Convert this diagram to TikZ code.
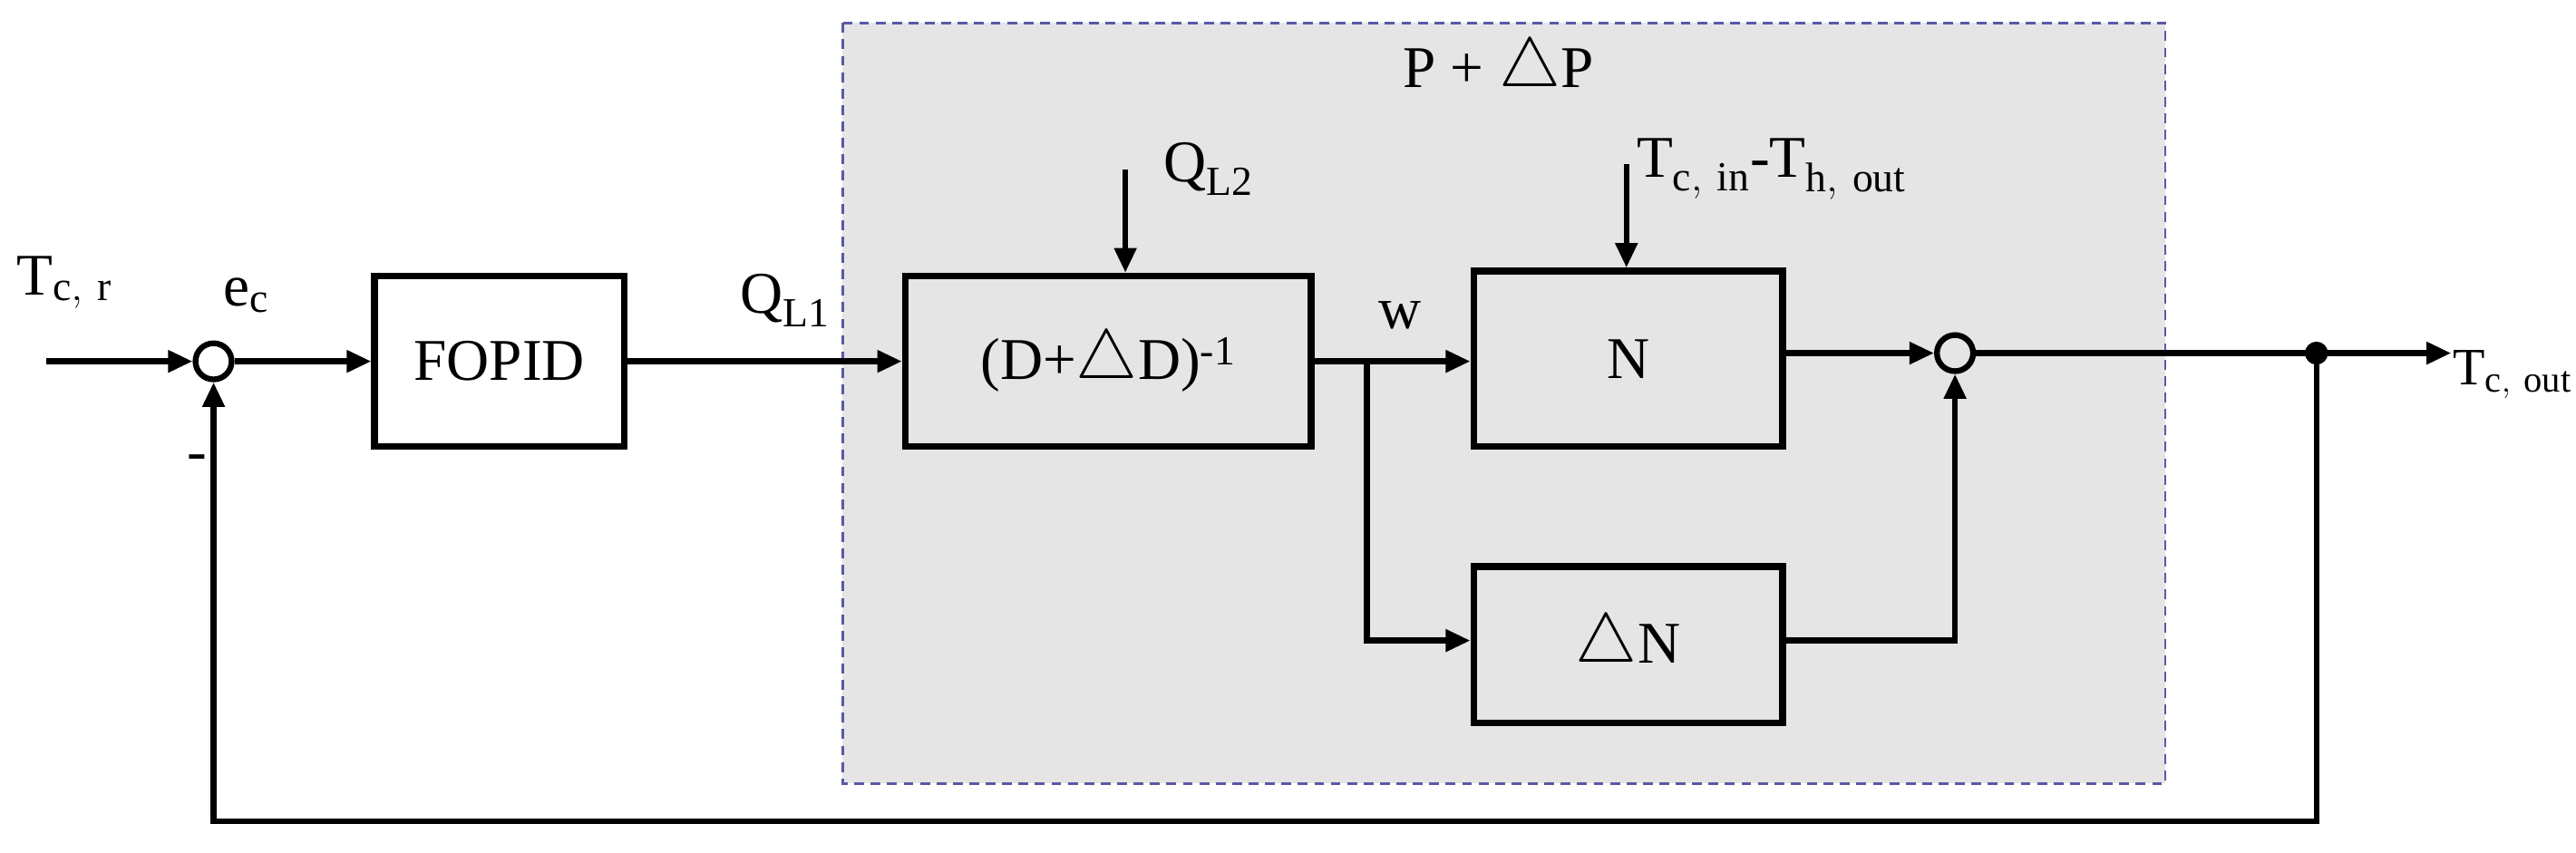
\documentclass[tikz,border=0pt]{standalone}
\usepackage{fontspec}
\setmainfont{Liberation Serif}
\usetikzlibrary{arrows.meta}
\newcommand{\bigtri}{\raisebox{0.02em}{\scalebox{1.7}{$\bigtriangleup$}}}
\begin{document}
\begin{tikzpicture}[x=1pt,y=-1pt,
  blk/.style={draw,line width=4pt,minimum width=#1,inner sep=0pt},
  sum/.style={draw,circle,line width=3.5pt,minimum size=22pt,inner sep=0pt},
  ln/.style={line width=3.5pt,-{Triangle[length=15pt,width=13pt]}},
  lab/.style={font=\fontsize{36}{40}\selectfont,inner sep=0pt}]
\useasboundingbox (0,0) rectangle (1568,519);
\fill[gray!20] (513,14) rectangle (1318,477);
\draw[dash pattern=on 6pt off 4pt,blue!30!gray,line width=1.5pt] (513,14) rectangle (1318,477);
\node[lab] (title) at (912,42) {P + \bigtri P};
\coordinate (in) at (28,220);
\node[sum] (s1) at (130,220) {};
\node[blk=152pt,minimum height=104pt,lab] (fopid) at (304,220) {FOPID};
\node[blk=247pt,minimum height=104pt,lab] (D) at (674.5,220) {(D+\bigtri D)\textsuperscript{-1}};
\node[blk=188pt,minimum height=107pt,lab] (N) at (991,218.5) {N};
\node[blk=188pt,minimum height=95pt,lab] (dN) at (991,392.5) {\bigtri N};
\node[sum] (s2) at (1190,215) {};
\coordinate (q2) at (685,103);
\coordinate (t2) at (990,100);
\coordinate (br) at (832,220);
\coordinate (dot) at (1410,215);
\coordinate (out) at (1492,215);
\fill (dot) circle (7pt);
\draw[ln] (in) -- (s1);
\draw[ln] (s1) -- (fopid);
\draw[ln] (fopid) -- (D);
\draw[ln] (q2) -- (D.north -| q2);
\draw[ln] (t2) -- (N.north -| t2);
\draw[ln] (D.east) -- (N.west |- D.east);
\draw[ln] (br) |- (dN.west |- 0,390);
\draw[ln] (N.east |- s2) -- (s2);
\draw[ln] (dN.east |- 0,390) -| (s2);
\draw[ln] (s2) -- (out);
\draw[ln] (dot) -- (1410,500) -| (s1);
\node[lab,anchor=west] (l1) at (10,172) {T$_{\mathrm{c,\ r}}$};
\node[lab] (l2) at (150,180) {e$_{\mathrm{c}}$};
\node[lab] (l3) at (478,183) {Q$_{\mathrm{L1}}$};
\node[lab,anchor=west] (l4) at (708,103) {Q$_{\mathrm{L2}}$};
\node[lab] (l5) at (852,192) {w};
\node[lab,anchor=west] (l6) at (996,103) {T$_{\mathrm{c,\ in}}$-T$_{\mathrm{h,\ out}}$};
\node[lab,anchor=west,font=\fontsize{32}{36}\selectfont] (l7) at (1493,228) {T$_{\mathrm{c,\ out}}$};
\node[lab] (l8) at (120,282) {-};
\end{tikzpicture}
\end{document}
